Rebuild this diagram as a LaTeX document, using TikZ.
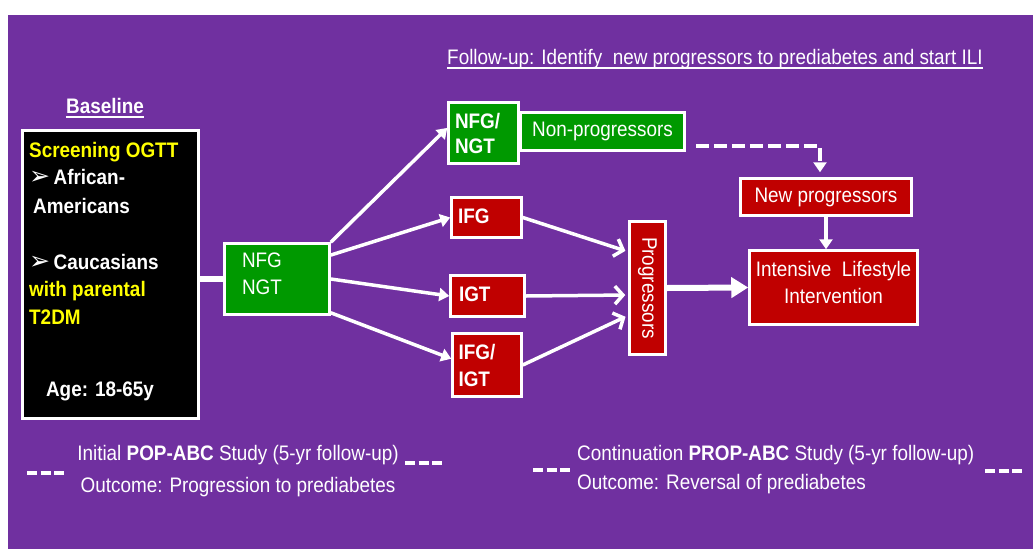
\documentclass[tikz,border=0pt]{standalone}
\usepackage{fontspec}
\setmainfont{Liberation Sans}[FakeStretch=0.9]
\newfontfamily\dejavu{DejaVu Sans}
\usetikzlibrary{arrows.meta}
\definecolor{bgpurple}{RGB}{112,48,160}
\definecolor{boxred}{RGB}{192,0,0}
\definecolor{boxgreen}{RGB}{0,153,0}
\definecolor{txtyellow}{RGB}{255,255,0}
\newcommand{\bulletarrow}{{\dejavu\fontsize{25}{27}\selectfont ➢}}
\tikzset{
  rg/.style={font=\fontsize{21}{27}\selectfont},
  bd/.style={font=\fontsize{21}{27}\selectfont\bfseries},
  plain/.style={inner sep=0pt, text=white},
  box/.style={draw=white, line width=2.5pt, inner sep=0pt, text=white},
  redbox/.style={box, fill=boxred},
  greenbox/.style={box, fill=boxgreen},
  arr/.style={draw=white, line width=3.5pt, -{Triangle[length=10pt,width=13pt]}},
  barb/.style={draw=white, line width=3.5pt, shorten >=3pt, -{Straight Barb[length=8pt,width=18pt]}},
  bigarr/.style={draw=white, line width=6pt, -{Triangle[length=17pt,width=20pt]}},
  dasharr/.style={draw=white, line width=4pt, dash pattern=on 13pt off 5pt, shorten >=5pt, -{Triangle[length=10pt,width=13pt]}},
  smalldash/.style={draw=white, line width=4pt, dash pattern=on 10pt off 3.5pt},
  uline/.style={draw=white, line width=1.6pt}
}
\begin{document}
\begin{tikzpicture}[x=1pt,y=-1pt]
\useasboundingbox (0,0) rectangle (1033,549);
\fill[bgpurple] (8,15) rectangle (1033,549);

% title
\node[plain, rg, anchor=base west] (title) at (447,64)
  {Follow-up: Identify\ \ new progressors to prediabetes and start ILI};
\draw[uline] ([yshift=-4pt]title.base west) -- ([yshift=-4pt]title.base east);

% baseline
\node[plain, bd, anchor=base] (baseline) at (105,113) {Baseline};
\draw[uline] ([yshift=-4pt]baseline.base west) -- ([yshift=-4pt]baseline.base east);

% screening box
\node[box, fill=black, minimum width=176pt, minimum height=288pt] (screen) at (110.5,274.5) {};
\node[plain, bd, text=txtyellow, anchor=base west] (s1) at (29,157.5) {Screening OGTT};
\node[plain, bd, anchor=base west] (s2) at (29,184) {\bulletarrow\,African-};
\node[plain, bd, anchor=base west] (s3) at (33,213) {Americans};
\node[plain, bd, anchor=base west] (s4) at (29,269) {\bulletarrow\,Caucasians};
\node[plain, bd, text=txtyellow, anchor=base west] (s5) at (29,296) {with parental};
\node[plain, bd, text=txtyellow, anchor=base west] (s6) at (29,324) {T2DM};
\node[plain, bd, anchor=base] (s7) at (100,396) {Age: 18-65y};

% first green box
\node[greenbox, rg, minimum width=105pt, minimum height=71pt, text width=70pt, inner xsep=17.5pt, align=left, text depth=37pt] (nfg0) at (277,279) {NFG\\NGT};
\draw[draw=white, line width=6pt] (screen.east |- nfg0.west) -- (nfg0.west);

% second column
\node[greenbox, bd, minimum width=70pt, minimum height=61pt, text width=57pt, inner xsep=6.5pt, align=left] (nfgngt) at (483.5,133) {NFG/\\[-2pt]NGT};
\node[greenbox, rg, minimum width=164pt, minimum height=38pt, align=center] (nonprog) at (602.5,131.5) {Non-progressors};
\node[redbox, bd, minimum width=70pt, minimum height=40pt, text width=57pt, inner xsep=6.5pt, align=left, text depth=3pt] (ifg) at (486.5,217.5) {IFG};
\node[redbox, bd, minimum width=74pt, minimum height=41pt, text width=57pt, inner xsep=8.5pt, align=left, text depth=3pt] (igt) at (487.5,296) {IGT};
\node[redbox, bd, minimum width=69pt, minimum height=63pt, text width=57pt, inner xsep=6pt, align=left] (ifgigt) at (487,365) {IFG/\\IGT};

% progressors
\node[redbox, rg, minimum width=36pt, minimum height=133pt] (prog) at (647.5,288) {\rotatebox{-90}{Progressors}};

% right column
\node[redbox, rg, minimum width=171pt, minimum height=37pt, align=center] (newprog) at (826,197) {New progressors};
\node[redbox, rg, minimum width=168pt, minimum height=74pt, align=center, text depth=10pt] (ili) at (833.5,287.5) {Intensive\ \ Lifestyle\\Intervention};

% arrows
\draw[arr] (nfg0.north east) -- (nfgngt.172);
\draw[arr] (nfg0.24) -- (ifg.west);
\draw[arr] (nfg0.east) -- (igt.west);
\draw[arr] ([yshift=3pt]nfg0.south east) -- (ifgigt.170);
\draw[barb] (ifg.east) -- (prog.118);
\draw[barb] (igt.east) -- (prog.200);
\draw[barb] (ifgigt.east) -- (prog.235);
\draw[bigarr] (prog.east) -- (ili.west);
\draw[arr] (newprog.south) -- (newprog.south |- ili.north);
\draw[dasharr] ([shift={(10,14.5)}]nonprog.east) -| ([xshift=-6pt]newprog.north);

% bottom texts
\node[plain, rg, anchor=base] (b1) at (238,460.5) {Initial \textbf{POP-ABC} Study (5-yr follow-up)};
\node[plain, rg, anchor=base] (b2) at (238,492) {Outcome: Progression to prediabetes};
\node[plain, rg, anchor=base west] (b3) at (577,460.5) {Continuation \textbf{PROP-ABC} Study (5-yr follow-up)};
\node[plain, rg, anchor=base west] (b4) at (577,489) {Outcome: Reversal of prediabetes};
\coordinate (d1a) at (27,473);  \coordinate (d1b) at (64,473);
\coordinate (d2a) at (405,463); \coordinate (d2b) at (442,463);
\coordinate (d3a) at (533,470); \coordinate (d3b) at (570,470);
\coordinate (d4a) at (985,471); \coordinate (d4b) at (1022,471);
\draw[smalldash] (d1a) -- (d1b);
\draw[smalldash] (d2a) -- (d2b);
\draw[smalldash] (d3a) -- (d3b);
\draw[smalldash] (d4a) -- (d4b);
\end{tikzpicture}
\end{document}
